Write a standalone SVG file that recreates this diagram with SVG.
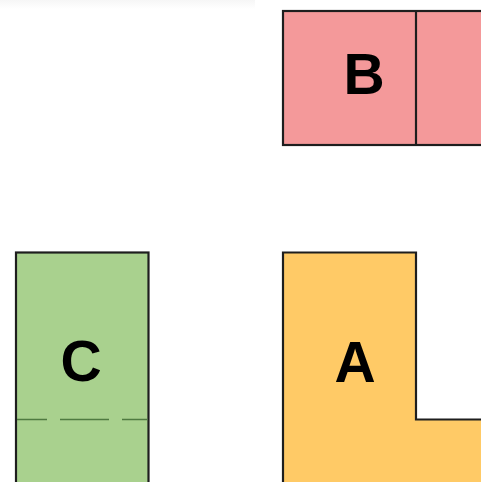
<svg xmlns="http://www.w3.org/2000/svg" width="481" height="482" viewBox="0 0 481 482">
<style>
.sh{stroke:#1e1e1e;stroke-width:2.2;stroke-linejoin:miter}
.lbl{font-family:"Liberation Sans",Arial,sans-serif;font-weight:bold;font-size:57px;fill:#000;text-anchor:middle}
</style>
<defs>
<linearGradient id="fade" x1="0" y1="0" x2="0" y2="1">
<stop offset="0" stop-color="#f6f6f6"/>
<stop offset="1" stop-color="#ffffff"/>
</linearGradient>
</defs>
<rect width="481" height="482" fill="#fff"/>
<rect x="0" y="0" width="255" height="9" fill="url(#fade)"/>
<g id="B">
<rect class="sh" x="283" y="11" width="210" height="134" fill="#F4999A"/>
<line class="sh" x1="416" y1="11" x2="416" y2="145"/>
<text class="lbl" x="364" y="93.5">B</text>
</g>
<g id="C">
<rect class="sh" x="16" y="252.5" width="132.5" height="240" fill="#A9D18E"/>
<line x1="17" y1="419.5" x2="147.5" y2="419.5" stroke="#4F7A40" stroke-width="1.6" stroke-dasharray="49 13" stroke-dashoffset="19"/>
<text class="lbl" x="81" y="380.5">C</text>
</g>
<g id="A">
<path class="sh" d="M283,252.5 H416 V419.5 H495 V495 H283 Z" fill="#FFCA66"/>
<text class="lbl" x="355" y="382">A</text>
</g>
<g id="connectors"/>
</svg>
